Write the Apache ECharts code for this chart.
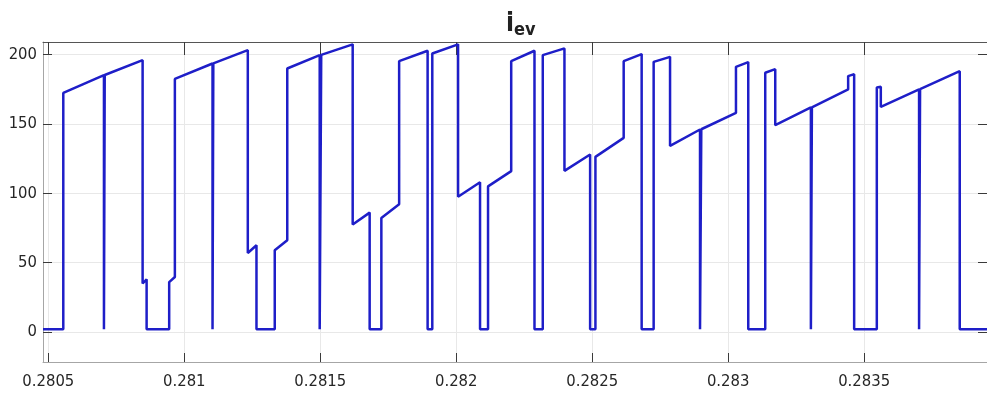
<!DOCTYPE html>
<html>
<head>
<meta charset="utf-8">
<script src="https://cdn.jsdelivr.net/npm/echarts@6/dist/echarts.min.js"></script>
<style>
  html, body { margin: 0; padding: 0; background: #fff; }
  #chart { width: 987px; height: 396px; }
</style>
</head>
<body>
<div id="chart"></div>
<script>
// i_ev waveform (time in s, current in A)
const times = [
  0.2804805, 0.2805551, 0.2805551, 0.2807046, 0.2807046, 0.2807075, 0.2807075,
  0.2808468, 0.2808468, 0.2808615, 0.2808615, 0.2809445, 0.2809445, 0.2809654, 0.2809654,
  0.2811039, 0.2811039, 0.2811068, 0.2811068, 0.2812336, 0.2812336, 0.2812655, 0.2812655,
  0.2813327, 0.2813327, 0.2813787, 0.2813787, 0.2814980, 0.2814980, 0.2815036, 0.2815036,
  0.2816193, 0.2816193, 0.2816817, 0.2816817, 0.2817247, 0.2817247, 0.2817901, 0.2817901,
  0.2818948, 0.2818948, 0.2819120, 0.2819120, 0.2820068, 0.2820068, 0.2820876, 0.2820876,
  0.2821170, 0.2821170, 0.2822022, 0.2822022, 0.2822878, 0.2822878, 0.2823183, 0.2823183,
  0.2823980, 0.2823980, 0.2824924, 0.2824924, 0.2825119, 0.2825119, 0.2826158, 0.2826158,
  0.2826819, 0.2826819, 0.2827260, 0.2827260, 0.2827863, 0.2827863, 0.2828965, 0.2828965,
  0.2829012, 0.2829012, 0.2830287, 0.2830287, 0.2830739, 0.2830739, 0.2831363, 0.2831363,
  0.2831731, 0.2831731, 0.2833042, 0.2833042, 0.2833079, 0.2833079, 0.2834412, 0.2834412,
  0.2834633, 0.2834633, 0.2835466, 0.2835466, 0.2835613, 0.2835613, 0.2837020, 0.2837020,
  0.2837057, 0.2837057, 0.2838515, 0.2838515, 0.2839518
]
const current = [
  2, 2, 172.4, 185.2, 2, 2, 185.3,
  196, 35, 38, 2, 2, 36, 39.7, 182.5,
  193.6, 2, 2, 193.7, 203.2, 57, 62.6, 2,
  2, 59, 66.2, 190, 199.6, 2, 2, 199.8,
  207.4, 77.5, 86.1, 2, 2, 82.3, 92.1, 195.3,
  202.8, 2, 2, 200.8, 207.4, 97.5, 108, 2,
  2, 105, 116, 195.3, 202.8, 2, 2, 199.6,
  204.5, 116.2, 128, 2, 2, 126.3, 140, 195.3,
  200.4, 2, 2, 194.8, 198.4, 134.2, 146, 2,
  2, 146.2, 158, 191.2, 194.6, 2, 2, 186.9,
  189.5, 149.1, 161.9, 2, 2, 162, 174.9, 184.5,
  185.9, 2, 2, 176.3, 176.8, 162.3, 174.9, 2,
  2, 175.1, 188.1, 2, 2
]
const xTicks = [0.2805, 0.281, 0.2815, 0.282, 0.2825, 0.283, 0.2835]
const yTicks = [0, 50, 100, 150, 200]
const xRange = [0.2804805, 0.2839518]
const yRange = [-21.6, 209.1]

const FONT = "'DejaVu Sans Condensed', 'Liberation Sans Narrow', 'Arial Narrow', sans-serif"

const chart = echarts.init(document.getElementById('chart'))

function boxAxis(opts) {
  // one side of the MATLAB-style box: line + inward ticks
  return Object.assign({
    type: 'value',
    axisLine: { show: true, onZero: false, lineStyle: { color: '#a6a6a6', width: 1 } },
    axisTick: { show: true, inside: true, length: 9, lineStyle: { color: '#3a3a3a', width: 1 } },
    axisLabel: { show: false },
    splitLine: { show: false }
  }, opts)
}

const option = {
  animation: false,
  backgroundColor: '#fff',
  title: {
    text: '{i|i}{ev|ev}',
    left: 501,
    top: 6,
    textStyle: {
      rich: {
        i: { fontFamily: FONT, fontSize: 26, fontWeight: 'bold', color: '#222', verticalAlign: 'bottom', padding: [0, 0, 2, 0] },
        ev: { fontFamily: FONT, fontSize: 18, fontWeight: 'bold', color: '#222', verticalAlign: 'bottom' }
      }
    }
  },
  grid: { left: 43, right: -1, top: 42, bottom: 34, containLabel: false },
  xAxis: [
    boxAxis({
      position: 'bottom',
      min: xRange[0],
      max: xRange[1],
      axisTick: { show: true, inside: true, length: 9, customValues: xTicks, lineStyle: { color: '#3a3a3a' } },
      axisLabel: {
        show: true,
        customValues: xTicks,
        formatter: (v) => String(v),
        fontFamily: FONT,
        fontSize: 16.5,
        color: '#262626',
        margin: 11
      },
      splitLine: { show: true, lineStyle: { color: '#e8e8e8', width: 1 } }
    }),
    boxAxis({
      position: 'top',
      min: xRange[0],
      max: xRange[1],
      axisLine: { show: true, onZero: false, lineStyle: { color: '#555', width: 1 } },
      axisTick: { show: true, inside: true, length: 13, customValues: xTicks, lineStyle: { color: '#3a3a3a' } }
    })
  ],
  yAxis: [
    boxAxis({
      position: 'left',
      min: yRange[0],
      max: yRange[1],
      axisTick: { show: true, inside: true, length: 9, customValues: yTicks, lineStyle: { color: '#3a3a3a' } },
      axisLabel: {
        show: true,
        customValues: yTicks,
        fontFamily: FONT,
        fontSize: 16.5,
        color: '#262626',
        margin: 6
      },
      splitLine: { show: true, lineStyle: { color: '#e8e8e8', width: 1 } }
    }),
    boxAxis({
      position: 'right',
      min: yRange[0],
      max: yRange[1],
      axisTick: { show: true, inside: true, length: 9, customValues: yTicks, lineStyle: { color: '#3a3a3a' } }
    })
  ],
  series: [
    {
      name: 'i_ev',
      type: 'line',
      data: times.map((t, i) => [t, current[i]]),
      showSymbol: false,
      lineStyle: { color: '#1e1ec8', width: 2.5 },
      clip: true
    }
  ]
}

chart.setOption(option)
</script>
</body>
</html>
